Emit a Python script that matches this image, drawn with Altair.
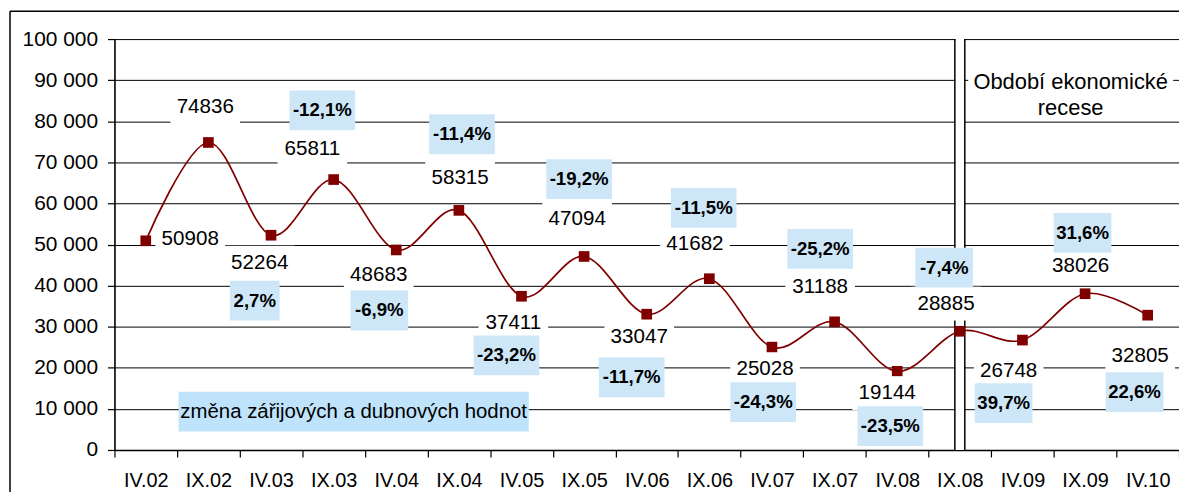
import json
import altair as alt
import pandas as pd

FONT = "Liberation Sans, Arial, sans-serif"
RED = "#800000"

# ---- data ----
categories = ["IV.02", "IX.02", "IV.03", "IX.03", "IV.04", "IX.04", "IV.05", "IX.05",
              "IV.06", "IX.06", "IV.07", "IX.07", "IV.08", "IX.08", "IV.09", "IX.09", "IV.10"]
values = [50908, 74836, 52264, 65811, 48683, 58315, 37411, 47094,
          33047, 41682, 25028, 31188, 19144, 28885, 26748, 38026, 32805]

# value-label anchors (position on category axis, position on value axis)
value_label_x = [1.21, 1.45, 2.32, 3.16, 4.22, 5.52, 6.37, 7.39, 8.38, 9.27,
                 10.39, 11.27, 12.34, 13.28, 14.28, 15.43, 16.38]
value_label_y = [51390, 83390, 45570, 73200, 42660, 66180, 30780, 56240, 27390, 50180,
                 19630, 39750, 13820, 35630, 19150, 44840, 22790]

# change between September and April values
pct_labels = ["2,7%", "-12,1%", "-6,9%", "-11,4%", "-23,2%", "-19,2%", "-11,7%", "-11,5%",
              "-24,3%", "-25,2%", "-23,5%", "-7,4%", "39,7%", "31,6%", "22,6%"]
pct_label_x = [2.24, 3.32, 4.23, 5.55, 6.26, 7.42, 8.26, 9.41,
               10.36, 11.27, 12.39, 13.25, 14.20, 15.46, 16.29]
pct_label_y = [36360, 82660, 33940, 76840, 23030, 65930, 17700, 58900,
               11640, 48960, 5820, 44360, 11390, 52840, 14060]

note_text = ["změna zářijových a dubnových hodnot"]
note_x = [3.82]
note_y = [9330]

recession_text = ["Období ekonomické\nrecese"]
recession_x = [15.27]
recession_y = [89450]
recession_start = ["IX.08"]

y_ticks = list(range(0, 100001, 10000))

# ---- tables ----
series = pd.DataFrame({"cat": categories, "y": values, "i": list(range(len(categories)))})
vlab = pd.DataFrame({"t": [str(v) for v in values], "x": value_label_x, "y": value_label_y})
plab = pd.DataFrame({"t": pct_labels, "x": pct_label_x, "y": pct_label_y})
note = pd.DataFrame({"t": note_text, "x": note_x, "y": note_y})
rec = pd.DataFrame({"t": recession_text, "x": recession_x, "y": recession_y})
rec_line = pd.DataFrame({"i": [categories.index(c) for c in recession_start]})
one = pd.DataFrame({"a": [0]})

n = len(categories)
xscale = alt.Scale(domain=[0, n], nice=False, zero=False)
yscale = alt.Scale(domain=[0, 100000], nice=False)

x_label_expr = "datum.value % 1 == 0 ? '' : " + json.dumps(categories) + "[floor(datum.value)]"

xaxis = alt.Axis(
    values=[k / 2 for k in range(2 * n + 1)],
    labelExpr=x_label_expr,
    grid=False,
    tickSize=7,
    tickColor="black",
    tickWidth=1.2,
    tickOpacity={"condition": {"test": "datum.value % 1 != 0", "value": 0}, "value": 1},
    labelFlush=False,
    labelOverlap=False,
    labelPadding=14,
    labelFont=FONT,
    labelFontSize=20,
    labelColor="black",
    domainColor="black",
    domainWidth=1.6,
    title=None,
)
yaxis = alt.Axis(
    values=y_ticks,
    labelExpr="replace(format(datum.value, ','), ',', ' ')",
    tickSize=7,
    tickColor="black",
    tickWidth=1.2,
    labelPadding=10,
    labelFont=FONT,
    labelFontSize=21,
    labelColor="black",
    domainColor="black",
    domainWidth=1.6,
    gridColor="#000000",
    gridWidth=1,
    title=None,
)

X = alt.X("x:Q", scale=xscale, axis=xaxis, title=None)
Y = alt.Y("y:Q", scale=yscale, axis=yaxis, title=None)

# outer chart border
border_v = alt.Chart(one).mark_rule(color="black", strokeWidth=1.5).encode(
    x=alt.value(-105), y=alt.value(-28), y2=alt.value(470))
border_h = alt.Chart(one).mark_rule(color="black", strokeWidth=1.5).encode(
    x=alt.value(-105), x2=alt.value(1100), y=alt.value(-28))

# double vertical line at start of recession
rec_base = alt.Chart(rec_line).transform_calculate(x="datum.i + 0.5", y="0", y2="100000")
rec_fill = rec_base.mark_rule(color="white", strokeWidth=9).encode(
    x=X, y=Y, y2="y2:Q")
rec_l = rec_base.mark_rule(color="black", strokeWidth=1.5, xOffset=-5).encode(
    x=X, y=Y, y2="y2:Q")
rec_r = rec_base.mark_rule(color="black", strokeWidth=1.5, xOffset=5).encode(
    x=X, y=Y, y2="y2:Q")

base = alt.Chart(series).transform_calculate(x="datum.i + 0.5")
line = base.mark_line(interpolate="cardinal", tension=0, color=RED, strokeWidth=1.7).encode(
    x=X, y=Y)
pts = base.mark_point(shape="square", filled=True, size=115, color=RED, opacity=1).encode(
    x=X, y=Y)

# value labels with white background
vbox = alt.Chart(vlab).mark_point(
    shape="M-35,-17H35V17H-35Z", size=4, filled=True, color="white", opacity=1
).encode(x=X, y=Y)
vtxt = alt.Chart(vlab).mark_text(font=FONT, fontSize=20.7, color="black",
                                 align="center", baseline="middle").encode(
    x=X, y=Y, text="t:N")

# percentage labels with light-blue background
pbox = alt.Chart(plab).transform_calculate(
    w="8 * length(datum.t) + 18"
).transform_calculate(
    box="'M' + (-datum.w / 2) + ',-20H' + (datum.w / 2) + 'V20H' + (-datum.w / 2) + 'Z'"
).mark_point(size=4, filled=True, color="#CDE7F8", opacity=1).encode(
    x=X, y=Y, shape=alt.Shape("box:N", scale=None))
ptxt = alt.Chart(plab).mark_text(font=FONT, fontSize=18.7, fontWeight="bold", color="black",
                                 align="center", baseline="middle").encode(
    x=X, y=Y, text="t:N")

# note box
nbox = alt.Chart(note).mark_point(
    shape="M-176,-20H176V20H-176Z", size=4, filled=True, color="#BFE3FA", opacity=1
).encode(x=X, y=Y)
ntxt = alt.Chart(note).mark_text(font=FONT, fontSize=20.5, color="black",
                                 align="center", baseline="middle").encode(
    x=X, y=Y, text="t:N")

# recession label
rbox = alt.Chart(rec).mark_point(
    shape="M-103,-26H103V26H-103Z", size=4, filled=True, color="white", opacity=1
).encode(x=X, y=Y)
rtxt = alt.Chart(rec).mark_text(font=FONT, fontSize=22, color="black", lineBreak="\n",
                                lineHeight=26, align="center", baseline="middle").encode(
    x=X, y=Y, text="t:N")

chart = alt.layer(
    rec_fill, rec_l, rec_r, line, pts, vbox, pbox, nbox, rbox, vtxt, ptxt, ntxt, rtxt,
    border_v, border_h,
).properties(
    width=1070,
    height=413,
    padding={"left": 107, "top": 30, "right": 0, "bottom": 41},
    autosize=alt.AutoSizeParams(type="none"),
    background="white",
).configure_view(stroke=None)

chart.save("out.html", embed_options={"renderer": "svg", "actions": False})
